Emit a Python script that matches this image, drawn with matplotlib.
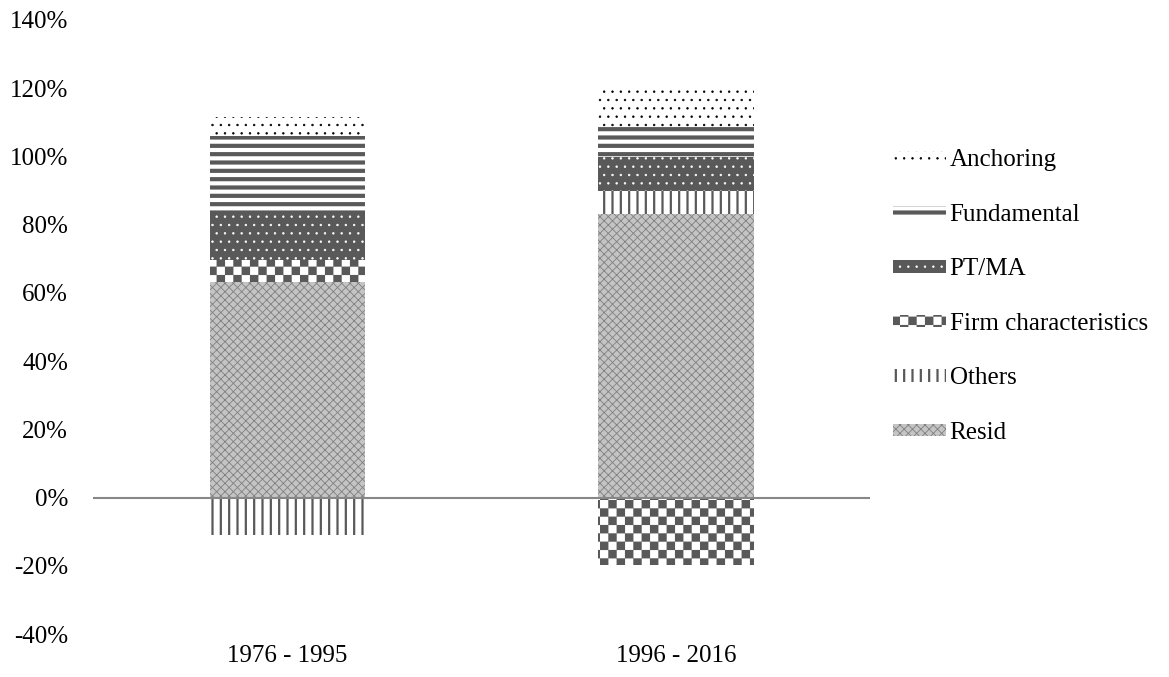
import warnings
import numpy as np
import matplotlib
matplotlib.use("Agg")
import matplotlib.pyplot as plt
from matplotlib import hatch as mhatch
from matplotlib.path import Path

warnings.filterwarnings("ignore")

# data (share of explained variation)
periods = ["1976 - 1995", "1996 - 2016"]
resid = [0.632, 0.832]
others = [-0.109, 0.068]
firm = [0.065, -0.197]
ptma = [0.138, 0.097]
fundamental = [0.224, 0.088]
anchoring = [0.056, 0.112]
yticks = [-0.4, -0.2, 0.0, 0.2, 0.4, 0.6, 0.8, 1.0, 1.2, 1.4]


# checkerboard hatch, character 'c'
class CheckerHatch(mhatch.HatchPatternBase):
    def __init__(self, hatch, density):
        self.n = int(hatch.count('c') * density)
        self.cells = [(i, j) for i in range(self.n) for j in range(self.n) if (i + j) % 2 == 0]
        self.num_vertices = len(self.cells) * 5

    def set_vertices_and_codes(self, vertices, codes):
        s = 1.0 / self.n
        k = 0
        for i, j in self.cells:
            x, y = i * s, j * s
            vertices[k:k + 5] = [(x, y), (x + s, y), (x + s, y + s), (x, y + s), (x, y)]
            codes[k:k + 5] = [Path.MOVETO, Path.LINETO, Path.LINETO, Path.LINETO, Path.CLOSEPOLY]
            k += 5


mhatch._hatch_types.append(CheckerHatch)

plt.rcParams['font.family'] = ['Liberation Serif', 'DejaVu Serif']
plt.rcParams['font.size'] = 18

fig = plt.figure(figsize=(11.69, 6.77), dpi=100)
ax = fig.add_axes([0.0796, 0.0635, 0.6647, 0.907])

dark = '#595959'
# name, values, facecolor, hatch, hatchcolor, hatch linewidth
series = [
    ("Resid", resid, '#c4c4c4', 'xxxx', '#808080', 0.6),
    ("Others", others, 'white', '||', dark, 1.6),
    ("Firm characteristics", firm, 'white', 'cc', dark, 0.1),
    ("PT/MA", ptma, dark, '..', 'white', 0.5),
    ("Fundamental", fundamental, 'white', '--', dark, 3.0),
    ("Anchoring", anchoring, 'white', '..', 'black', 0.5),
]

x = np.arange(len(periods))
pos_base = np.zeros(len(periods))
neg_base = np.zeros(len(periods))
handles = []
for name, vals, fc, h, hc, hlw in series:
    vals = np.array(vals)
    base = np.where(vals >= 0, pos_base, neg_base)
    bars = ax.bar(x, vals, 0.4, bottom=base, color=fc, edgecolor=hc,
                  hatch=h, linewidth=0, label=name)
    for p in bars:
        if hasattr(p, 'set_hatch_linewidth'):
            p.set_hatch_linewidth(hlw)
    pos_base += np.where(vals >= 0, vals, 0)
    neg_base += np.where(vals < 0, vals, 0)
    handles.append(bars)

ax.axhline(0, color='#878787', lw=1.5, zorder=3)

ax.set_xlim(-0.5, 1.5)
ax.set_ylim(-0.4, 1.4)
ax.set_xticks(x)
ax.set_xticklabels(periods)
ax.set_yticks(yticks)
ax.set_yticklabels([f"{round(v * 100)}%" for v in yticks])
ax.tick_params(length=0)
ax.tick_params(axis='y', pad=18)
ax.tick_params(axis='x', pad=8)
for s in ax.spines.values():
    s.set_visible(False)

leg = fig.legend(handles[::-1], [s[0] for s in series][::-1],
                 loc='center left', bbox_to_anchor=(0.745, 0.562),
                 frameon=False, handlelength=2.1, handleheight=0.4,
                 handletextpad=0.15, labelspacing=1.30)
for lh, s in zip(leg.legend_handles, series[::-1]):
    if hasattr(lh, 'set_hatch_linewidth'):
        lh.set_hatch_linewidth(s[5])

fig.savefig("out.png", dpi=100)
